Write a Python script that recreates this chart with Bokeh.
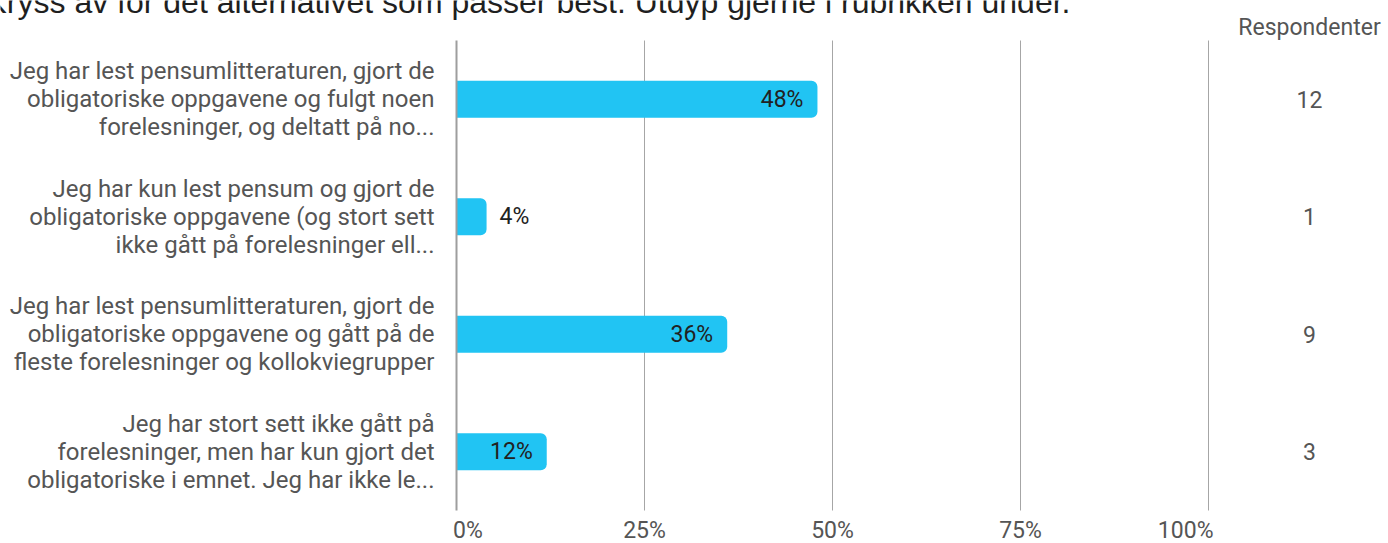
from bokeh.plotting import figure
from bokeh.models import Range1d, ColumnDataSource, FixedTicker, Label
from bokeh.core.properties import value, field
from bokeh.embed import file_html
from bokeh.resources import INLINE

# ---------------- data ----------------
title_text = "Kryss av for det alternativet som passer best. Utdyp gjerne i rubrikken under."
categories = [
    "Jeg har lest pensumlitteraturen, gjort de\nobligatoriske oppgavene og fulgt noen\nforelesninger, og deltatt på no...",
    "Jeg har kun lest pensum og gjort de\nobligatoriske oppgavene (og stort sett\nikke gått på forelesninger ell...",
    "Jeg har lest pensumlitteraturen, gjort de\nobligatoriske oppgavene og gått på de\nfleste forelesninger og kollokviegrupper",
    "Jeg har stort sett ikke gått på\nforelesninger, men har kun gjort det\nobligatoriske i emnet. Jeg har ikke le...",
]
percent = [48, 4, 36, 12]
respondents = [12, 1, 9, 3]
x_ticks = [0, 25, 50, 75, 100]
x_tick_labels = ["0%", "25%", "50%", "75%", "100%"]
count_header = "Respondenter"

# ---------------- layout / style ----------------
W, H = 1388, 543
AXIS_PX = 456          # pixel column of 0 %
PX_PER_PCT = 7.52      # pixels per percent
PLOT_TOP, PLOT_BOTTOM = 40, 510
n_cat = len(categories)
PX_PER_SLOT = (PLOT_BOTTOM - PLOT_TOP) / n_cat


def xd(px):            # screen column -> data x
    return (px - AXIS_PX) / PX_PER_PCT


def yd(py):            # screen row -> slot coordinate (0 at top of bars area)
    return (py - PLOT_TOP) / PX_PER_SLOT


FONT = "Roboto"
BAR = "#21C4F3"
TXT = "#555555"
NB = "\u00a0"
COUNT_X = xd(1309)

p = figure(width=W, height=H,
           x_range=Range1d(xd(0), xd(W)),
           y_range=Range1d(yd(H), yd(0)),
           min_border_left=0, min_border_right=0, min_border_top=0, min_border_bottom=0,
           output_backend="svg", toolbar_location=None,
           outline_line_color=None,
           background_fill_color="white", border_fill_color="white",
           styles={"position": "absolute", "top": "0px", "left": "0px"})

slots = [i + 0.5 for i in range(n_cat)]
inside = [v >= 8 for v in percent]
src = ColumnDataSource(dict(
    y=slots,
    pct=percent,
    label=[f"{v}%" for v in percent],
    align=["right" if i else "left" for i in inside],
    xoff=[-14 if i else 13 for i in inside],
    count=[str(c) for c in respondents],
    count_x=[COUNT_X] * n_cat,
))

# vertical grid lines at the percentage ticks, spanning the bar area
p.segment(x0=x_ticks[1:], x1=x_ticks[1:], y0=0, y1=n_cat,
          line_color="#a6a6a6", line_width=1)

p.hbar(y="y", left=0, right="pct", height=0.316, fill_color=BAR, line_color=None,
       border_radius=(0, 6, 6, 0), source=src)

p.text(x="pct", y="y", text="label", text_align=field("align"), x_offset="xoff",
       text_baseline="middle", text_font=value(FONT), text_font_size="23px",
       text_color="#212121", source=src)

p.text(x="count_x", y="y", text="count", text_align="center", text_baseline="middle",
       text_font=value(FONT), text_font_size="23px", text_color=TXT, source=src)

p.add_layout(Label(x=COUNT_X, y=yd(27), text=count_header, text_align="center",
                   text_baseline="middle", text_font=FONT, text_font_size="23px",
                   text_color=TXT))
# title, partly above the visible window as in the reference
p.add_layout(Label(x=xd(-15), y=yd(1), text=title_text, text_align="left",
                   text_baseline="alphabetic", text_font="Liberation Sans",
                   text_font_size="32px", text_color="#1f1f1f"))

p.grid.visible = False

# x axis (percent ticks under the bars)
xa = p.xaxis[0]
xa.fixed_location = n_cat
xa.ticker = FixedTicker(ticks=x_ticks)
overrides = dict(zip(x_ticks, x_tick_labels))
overrides[x_ticks[0]] = NB * 4 + overrides[x_ticks[0]]
overrides[x_ticks[-1]] = overrides[x_ticks[-1]] + NB * 8
xa.major_label_overrides = overrides
xa.axis_line_color = None
xa.major_tick_line_color = None
xa.minor_tick_line_color = None
xa.major_tick_out = 0
xa.major_label_standoff = 6
xa.major_label_text_font = FONT
xa.major_label_text_font_size = "23px"
xa.major_label_text_color = TXT

# y axis (category labels)
ya = p.yaxis[0]
ya.fixed_location = 0
ya.bounds = (0, n_cat)
ya.ticker = FixedTicker(ticks=slots)
ya.major_label_overrides = dict(zip(slots, categories))
ya.axis_line_color = "#9e9e9e"
ya.axis_line_width = 2
ya.major_tick_line_color = None
ya.minor_tick_line_color = None
ya.major_tick_out = 0
ya.major_label_standoff = 22
ya.major_label_text_font = FONT
ya.major_label_text_font_size = "24px"
ya.major_label_text_color = TXT
ya.major_label_text_line_height = 1.0

open("out.html", "w").write(file_html(p, INLINE))
